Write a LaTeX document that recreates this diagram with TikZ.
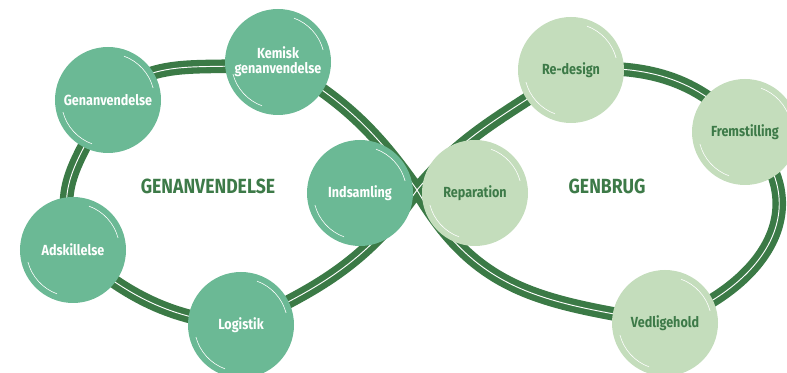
\documentclass[tikz,border=0pt]{standalone}
\usepackage{fontspec}
\newfontfamily\stagefont{Fira Sans}[FakeStretch=0.86]
\usetikzlibrary{backgrounds}

\definecolor{bandgreen}{HTML}{3B7A46}
\definecolor{darkleaf}{HTML}{6BB995}
\definecolor{paleleaf}{HTML}{C4DDBC}
\definecolor{textgreen}{HTML}{3D7A48}

\begin{document}
\begin{tikzpicture}[x=0.03cm, y=0.03cm,
	stage/.style={circle, minimum size=3.18cm, inner sep=0pt, align=center,
		font=\stagefont\bfseries\fontsize{12.5}{13}\selectfont},
	recycle/.style={stage, fill=darkleaf, text=white},
	reuse/.style={stage, fill=paleleaf, text=textgreen},
	band/.style={draw=bandgreen, line width=5.4pt, double=white, double distance=0.8pt},
	looptitle/.style={text=textgreen, font=\stagefont\bfseries\fontsize{17.5}{19}\selectfont}]
	\useasboundingbox (0,0) rectangle (787,373);

	% genanvendelse loop
	\node[recycle] (gen) at (108,273) {Genanvendelse};
	\node[recycle] (kem) at (278,311) {Kemisk\\genanvendelse};
	\node[recycle] (ind) at (360,180) {Indsamling};
	\node[recycle] (log) at (241,48) {Logistik};
	\node[recycle] (ads) at (73,123) {Adskillelse};

	% genbrug loop
	\node[reuse] (rep) at (475,180) {Reparation};
	\node[reuse] (red) at (571,303) {Re-design};
	\node[reuse] (frem) at (745,241) {Fremstilling};
	\node[reuse] (ved) at (665,50) {Vedligehold};

	\coordinate (cross) at (417,183);

	\node[looptitle] (gtitle) at (208,187) {GENANVENDELSE};
	\node[looptitle] (btitle) at (607,187) {GENBRUG};

	% highlights
	\foreach \n in {gen,kem,ind,log,ads,rep,red,frem,ved} {
		\draw[white, line width=0.5pt] (\n.center) ++(15:1.4cm) arc[start angle=15, end angle=70, radius=1.4cm];
		\draw[white, line width=0.5pt] (\n.center) ++(195:1.4cm) arc[start angle=195, end angle=250, radius=1.4cm];
	}

	\begin{pgfonlayer}{background}
	\path[band] (gen.center) to[out=45, in=190] (kem.center)
		to[out=-30, in=125] (cross)
		to[out=-60, in=170, looseness=1.1] (ved.center)
		to[out=20, in=-45, looseness=1.3] (frem.center)
		to[out=130, in=5] (red.center)
		to[out=-145, in=50] (cross)
		to[out=-125, in=25] (log.center)
		to[out=175, in=-40] (ads.center)
		to[out=105, in=-115, looseness=1.2] (gen.center);
	\end{pgfonlayer}
\end{tikzpicture}
\end{document}
